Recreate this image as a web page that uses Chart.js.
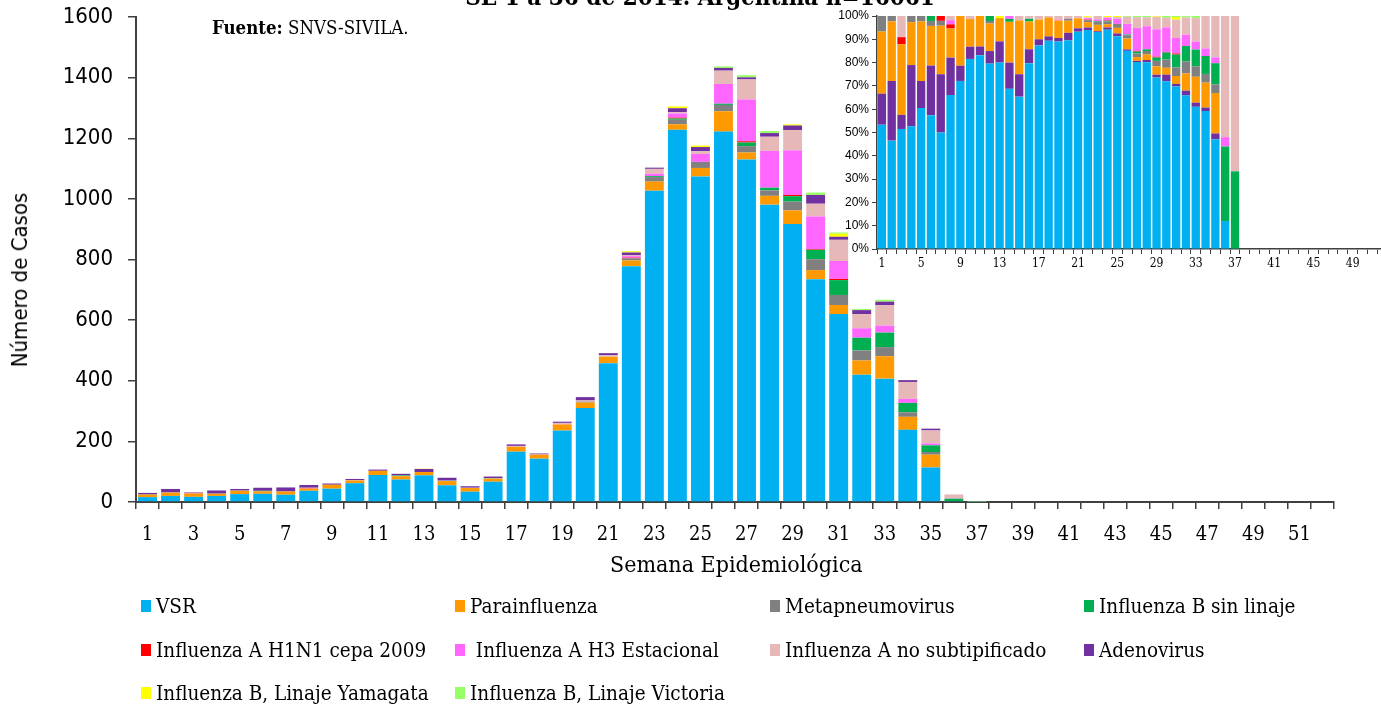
<!DOCTYPE html>
<html>
<head>
<meta charset="utf-8">
<script src="https://cdn.jsdelivr.net/npm/chart.js@4.4.1/dist/chart.umd.min.js"></script>
<style>
html, body { margin: 0; padding: 0; width: 1381px; height: 705px; overflow: hidden; background: #fff; }
#main { position: absolute; left: 0; top: 0; }
#inset { position: absolute; left: 820px; top: 0; }
.txt { position: absolute; font-family: 'DejaVu Serif Condensed', 'DejaVu Serif', serif; color: #000; white-space: pre; }
.lg { position: absolute; font-family: 'DejaVu Serif Condensed', 'DejaVu Serif', serif; font-size: 20.5px; line-height: 22px; white-space: pre; color: #000; }
.lg i { position: absolute; left: -15px; top: 5px; width: 10px; height: 12px; }
</style>
</head>
<body>
<canvas id="main" width="1381" height="705"></canvas>
<canvas id="inset" width="600" height="285"></canvas>

<div class="txt" style="left:0; width:1400px; text-align:center; top:-17px; font-size:24px; font-weight:bold; line-height:28px;">SE 1 a 36 de 2014. Argentina n=16061</div>
<div class="txt" style="left:212px; top:17px; font-size:18.5px; line-height:22px;"><b>Fuente:</b> SNVS-SIVILA.</div>
<div class="txt" style="left:610px; top:551px; font-size:23px; line-height:26px;">Semana Epidemiológica</div>
<div class="txt" style="left:20px; top:280px; font-family:'DejaVu Sans Condensed',sans-serif; font-size:22px; line-height:26px; transform:translate(-50%,-50%) rotate(-90deg);">Número de Casos</div>

<div id="legend"></div>

<script>
// semanas epidemiologicas 1..52
var semanas = [];
for (var s = 1; s <= 52; s++) semanas.push(String(s));

// casos por semana (SE 1 a 37)
var vsr      = [16,20,17,20,26,27,24,37,44,62, 89,74,88,55,34,67,166,143,236,310, 458,778,1027,1228,1074,1222,1130,981,917,735, 620,420,407,238,114,3,0];
var paraInf  = [8,11,10,7,11,8,10,7,13,9, 14,11,11,14,12,10,16,13,20,18, 21,19,30,18,28,67,23,29,45,30, 30,47,74,43,42,0,0];
var metapneu = [2,1,0,1,1,1,1,0,0,0, 0,1,0,0,0,0,0,0,0,3, 0,7,15,15,20,21,21,18,29,36, 33,33,30,15,9,0,0];
var fluBsin  = [0,0,0,0,0,1,0,0,0,0, 0,2,0,1,0,1,0,0,0,0, 0,0,3,4,0,4,12,9,18,31, 49,42,48,31,22,8,1];
var h1n1     = [0,0,1,0,0,0,1,1,0,0, 0,0,0,0,0,0,0,0,0,0, 0,2,0,3,0,0,4,0,4,2, 4,0,0,0,0,0,0];
var h3       = [0,0,0,0,0,0,0,1,0,0, 0,0,0,1,0,0,0,0,1,0, 0,5,8,14,26,65,138,121,147,108, 59,31,23,13,6,1,0];
var fluAns   = [0,0,3,0,0,0,0,1,0,1, 0,0,0,0,1,1,3,1,4,4, 5,3,16,4,9,44,66,47,67,42, 70,47,67,56,43,13,2];
var adeno    = [4,11,2,10,5,10,12,9,4,4, 4,5,10,9,5,5,5,3,4,11, 7,9,4,13,14,9,7,12,15,29, 10,13,12,6,6,0,0];
var yamagata = [0,0,0,0,0,0,0,0,0,0, 0,0,1,0,0,0,0,0,0,0, 0,4,0,6,5,0,0,0,4,0, 10,0,0,0,0,0,0];
var victoria = [0,0,0,0,0,0,0,0,0,0, 0,0,0,0,0,0,0,0,0,0, 0,1,0,0,0,5,7,7,0,8, 4,4,6,0,0,0,0];

var yTicks = [0,200,400,600,800,1000,1200,1400,1600];

var serie = [
    {label: 'VSR', data: vsr, color: '#00B0F0'},
    {label: 'Parainfluenza', data: paraInf, color: '#FF9900'},
    {label: 'Metapneumovirus', data: metapneu, color: '#808080'},
    {label: 'Influenza B sin linaje', data: fluBsin, color: '#00B050'},
    {label: 'Influenza A H1N1 cepa 2009', data: h1n1, color: '#FF0000'},
    {label: ' Influenza A H3 Estacional', data: h3, color: '#FF66FF'},
    {label: 'Influenza A no subtipificado', data: fluAns, color: '#E6B9B8'},
    {label: 'Adenovirus', data: adeno, color: '#7030A0'},
    {label: 'Influenza B, Linaje Yamagata', data: yamagata, color: '#FFFF00'},
    {label: 'Influenza B, Linaje Victoria', data: victoria, color: '#99FF66'}
];

// orden de apilado del grafico chico
var ordenInset = [0, 7, 1, 2, 3, 4, 5, 6, 8, 9];

var serif = "'DejaVu Serif Condensed', 'DejaVu Serif', serif";
var narrow = "'DejaVu Sans Condensed', sans-serif";
var ejeColor = '#404040';

var mainSets = serie.map(function (s) {
    return {label: s.label, data: s.data, backgroundColor: s.color, borderWidth: 0};
});

new Chart(document.getElementById('main'), {
    type: 'bar',
    data: {labels: semanas, datasets: mainSets},
    options: {
        responsive: false,
        animation: false,
        layout: {padding: {left: 0, right: 47, top: 17, bottom: 163}},
        plugins: {legend: {display: false}, tooltip: {enabled: false}},
        datasets: {bar: {barPercentage: 0.82, categoryPercentage: 1}},
        scales: {
            x: {
                stacked: true,
                grid: {drawOnChartArea: false, offset: true, tickLength: 7, color: ejeColor, lineWidth: 1.5},
                border: {color: ejeColor, width: 2},
                ticks: {
                    autoSkip: false, maxRotation: 0, padding: 14, color: '#000',
                    font: {family: serif, size: 20},
                    callback: function (v, i) { return i % 2 === 0 ? semanas[i] : ''; }
                },
                afterFit: function (sc) { sc.height = 40; sc.paddingLeft = 0; sc.paddingRight = 0; }
            },
            y: {
                stacked: true, min: 0, max: 1600,
                afterBuildTicks: function (sc) { sc.ticks = yTicks.map(function (v) { return {value: v}; }); },
                grid: {drawOnChartArea: false, tickLength: 8, color: ejeColor, lineWidth: 1.5},
                border: {color: ejeColor, width: 2},
                ticks: {padding: 15, color: '#000', font: {family: narrow, size: 22},
                    callback: function (v) { return String(v); }},
                afterFit: function (sc) { sc.width = 136; sc.paddingTop = 0; sc.paddingBottom = 0; }
            }
        }
    }
});

// grafico chico: porcentaje por semana
var totales = vsr.map(function (v, i) {
    var t = 0;
    serie.forEach(function (s) { t += s.data[i]; });
    return t;
});

var insetSets = ordenInset.map(function (k) {
    var s = serie[k];
    return {
        label: s.label,
        data: s.data.map(function (v, i) { return totales[i] ? v * 100 / totales[i] : 0; }),
        backgroundColor: s.color, borderWidth: 0
    };
});

new Chart(document.getElementById('inset'), {
    type: 'bar',
    data: {labels: semanas, datasets: insetSets},
    options: {
        responsive: false,
        animation: false,
        layout: {padding: {left: 0, right: 33, top: 16, bottom: 0}},
        plugins: {legend: {display: false}, tooltip: {enabled: false}},
        datasets: {bar: {barPercentage: 0.85, categoryPercentage: 1}},
        scales: {
            x: {
                stacked: true,
                grid: {drawOnChartArea: false, offset: true, tickLength: 5, color: ejeColor},
                border: {color: ejeColor, width: 1.5},
                ticks: {
                    autoSkip: false, maxRotation: 0, padding: 3, color: '#000',
                    font: {family: serif, size: 12},
                    callback: function (v, i) { return i % 4 === 0 ? semanas[i] : ''; }
                },
                afterFit: function (sc) { sc.height = 36; sc.paddingLeft = 0; sc.paddingRight = 0; }
            },
            y: {
                stacked: true, min: 0, max: 100,
                grid: {drawOnChartArea: false, tickLength: 5, color: ejeColor},
                border: {color: ejeColor, width: 1.5},
                ticks: {stepSize: 10, padding: 3, color: '#000', font: {family: 'Liberation Sans', size: 12},
                    callback: function (v) { return v + '%'; }},
                afterFit: function (sc) { sc.width = 57; sc.paddingTop = 0; sc.paddingBottom = 0; }
            }
        }
    }
});

// leyenda
var colX = [156, 470, 785, 1099];
var rowY = [595, 639, 682];
var html = '';
serie.forEach(function (s, i) {
    var x = colX[i % 4], y = rowY[Math.floor(i / 4)];
    html += '<div class="lg" style="left:' + x + 'px;top:' + y + 'px"><i style="background:' + s.color + '"></i>' + s.label + '</div>';
});
document.getElementById('legend').innerHTML = html;
</script>
</body>
</html>
